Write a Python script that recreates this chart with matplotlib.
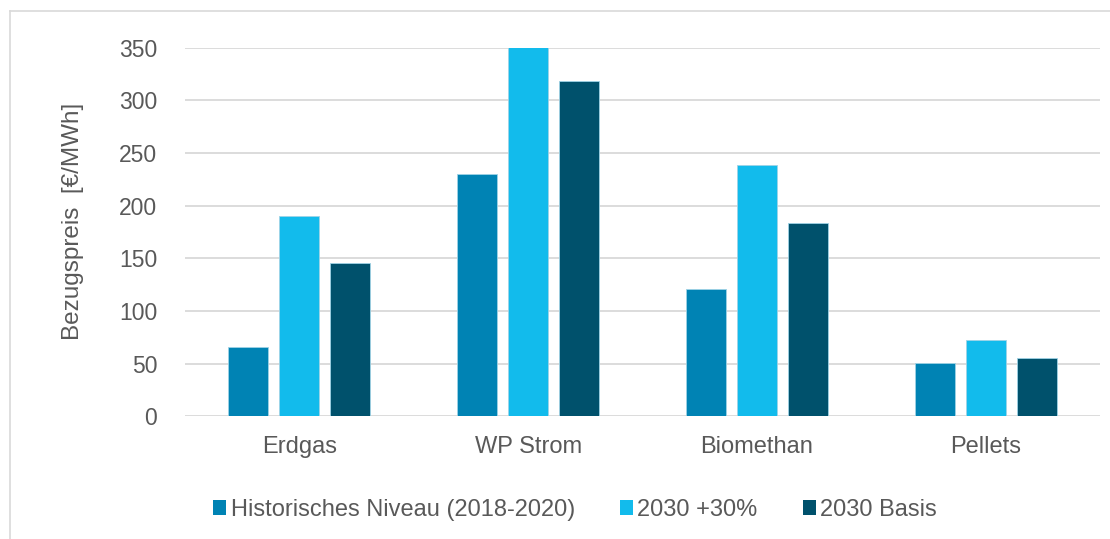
import matplotlib.pyplot as plt
import numpy as np
from matplotlib.patches import Patch

plt.rcParams['font.family'] = ['Liberation Sans', 'DejaVu Sans']

# Bezugspreise je Energieträger in €/MWh
categories = ['Erdgas', 'WP Strom', 'Biomethan', 'Pellets']
series_names = ['Historisches Niveau (2018-2020)', '2030 +30%', '2030 Basis']
historisch = [66, 230, 121, 51]
plus30 = [190, 351, 239, 72]
basis = [146, 318, 184, 55]
yticks = [0, 50, 100, 150, 200, 250, 300, 350]

colors = ['#0083B4', '#12BBEC', '#00516C']
text_color = '#595959'

fig = plt.figure(figsize=(11.1, 5.39), dpi=100)
ax = fig.add_axes([0.1667, 0.2276, 0.8243, 0.6839])

x = np.arange(len(categories))
width = 0.175
step = 0.223
for i, (vals, c) in enumerate(zip([historisch, plus30, basis], colors)):
    ax.bar(x + (i - 1) * step, vals, width, color=c, edgecolor='#9fd3e6',
           linewidth=0.6, zorder=3)

ax.set_xlim(-0.5, len(categories) - 0.5)
ax.set_ylim(0, 350)
ax.set_yticks(yticks)
ax.set_xticks(x)
ax.set_xticklabels(categories)
ax.tick_params(axis='both', length=0, colors=text_color)
ax.tick_params(axis='x', pad=14, labelsize=17)
ax.tick_params(axis='y', pad=20, labelsize=16.5)
ax.yaxis.grid(True, color='#D9D9D9', linewidth=1.3, zorder=0)
ax.set_axisbelow(True)
for s in ax.spines.values():
    s.set_visible(False)

fig.text(0.066, 0.589, 'Bezugspreis  [€/MWh]', rotation=90, ha='center',
         va='center', fontsize=17.5, color=text_color)

handles = [Patch(facecolor=c, edgecolor='none') for c in colors]
fig.legend(handles, series_names, loc='center', ncol=3, frameon=False,
           bbox_to_anchor=(0.518, 0.054), fontsize=17, labelcolor=text_color,
           handlelength=0.55, handleheight=0.55, handletextpad=0.2,
           columnspacing=1.9)

# thin frame around the chart area
fig.add_artist(plt.Line2D([10 / 1110, 10 / 1110], [0, 1 - 11 / 539],
                          color='#D9D9D9', linewidth=1.2))
fig.add_artist(plt.Line2D([10 / 1110, 1], [1 - 11 / 539, 1 - 11 / 539],
                          color='#D9D9D9', linewidth=1.2))

fig.savefig('out.png', dpi=100)
